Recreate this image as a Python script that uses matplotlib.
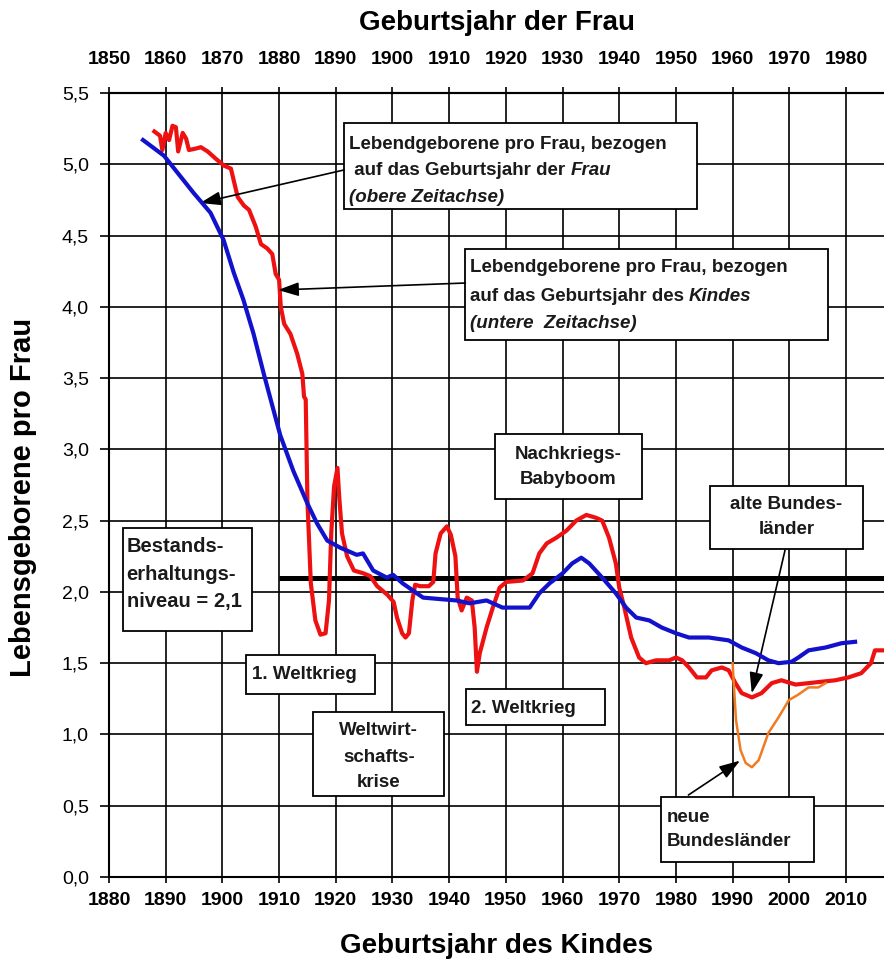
import matplotlib
matplotlib.use("Agg")
import matplotlib.pyplot as plt
from matplotlib.patches import Rectangle

plt.rcParams['font.family'] = ['Liberation Sans', 'DejaVu Sans']

# ---------------- data ----------------
# Lebendgeborene pro Frau, bezogen auf das Geburtsjahr des Kindes (untere Zeitachse)
red_years = [1888.0, 1889.0, 1889.4, 1890.0, 1890.6, 1891.2, 1891.8, 1892.2, 1893.0, 1893.6,
             1894.1, 1895.3, 1896.2, 1897.4, 1898.8, 1900.3, 1901.5, 1902.7, 1903.8, 1904.7,
             1905.9, 1906.8, 1907.9, 1908.8, 1909.4, 1910.0, 1910.3, 1910.9, 1912.0, 1913.2,
             1914.1, 1914.4, 1914.7, 1915.0, 1915.6, 1916.4, 1917.3, 1918.2, 1918.8, 1919.2,
             1919.7, 1920.3, 1920.6, 1921.1, 1922.0, 1923.2, 1924.9, 1926.1, 1927.3, 1929.1,
             1930.2, 1930.8, 1931.7, 1932.3, 1932.9, 1933.5, 1934.0, 1934.9, 1936.4, 1937.2,
             1937.6, 1938.5, 1939.6, 1940.3, 1941.1, 1941.5, 1942.2, 1943.1, 1944.0, 1944.5,
             1944.9, 1945.4, 1946.6, 1947.7, 1948.9, 1950.1, 1953.0, 1954.7, 1955.9, 1957.2,
             1958.9, 1960.7, 1962.4, 1964.2, 1965.9, 1967.0, 1968.2, 1969.4, 1970.0, 1970.9,
             1972.1, 1973.5, 1974.7, 1976.5, 1978.8, 1980.0, 1981.1, 1982.3, 1983.7, 1985.3,
             1986.3, 1988.1, 1989.3, 1990.5, 1991.6, 1993.4, 1995.1, 1996.9, 1998.6, 2001.1,
             2003.4, 2005.7, 2008.1, 2010.4, 2012.7, 2014.4, 2015.1, 2016.4]
red_values = [5.23, 5.20, 5.10, 5.22, 5.17, 5.27, 5.26, 5.09, 5.22, 5.18,
              5.10, 5.11, 5.12, 5.09, 5.04, 4.99, 4.97, 4.77, 4.71, 4.68,
              4.56, 4.44, 4.41, 4.37, 4.23, 4.19, 4.00, 3.88, 3.81, 3.67,
              3.53, 3.37, 3.35, 2.64, 2.06, 1.80, 1.70, 1.71, 1.94, 2.41,
              2.74, 2.87, 2.67, 2.41, 2.25, 2.15, 2.13, 2.11, 2.04, 1.98,
              1.93, 1.82, 1.71, 1.68, 1.71, 1.94, 2.05, 2.04, 2.04, 2.07,
              2.27, 2.41, 2.46, 2.40, 2.25, 1.96, 1.87, 1.96, 1.94, 1.75,
              1.44, 1.57, 1.75, 1.89, 2.03, 2.07, 2.08, 2.13, 2.27, 2.34,
              2.38, 2.43, 2.50, 2.54, 2.52, 2.50, 2.38, 2.20, 2.03, 1.89,
              1.68, 1.54, 1.50, 1.52, 1.52, 1.54, 1.52, 1.47, 1.40, 1.40,
              1.45, 1.47, 1.45, 1.36, 1.29, 1.26, 1.29, 1.36, 1.38, 1.35,
              1.36, 1.37, 1.38, 1.40, 1.43, 1.50, 1.59, 1.59]

# neue Bundeslaender (untere Zeitachse)
orange_years = [1990.0, 1990.2, 1990.6, 1991.4, 1992.3, 1993.4, 1994.6, 1996.3, 1998.1,
                1999.9, 2001.6, 2003.4, 2005.1, 2006.4]
orange_values = [1.50, 1.36, 1.10, 0.89, 0.80, 0.77, 0.82, 1.01, 1.12,
                 1.24, 1.28, 1.33, 1.33, 1.36]

# Lebendgeborene pro Frau, bezogen auf das Geburtsjahr der Frau (obere Zeitachse)
blue_years = [1856.0, 1859.7, 1864.9, 1867.9, 1870.2, 1872.0, 1873.7, 1875.5, 1877.3, 1880.2,
              1882.5, 1885.0, 1886.7, 1888.5, 1890.8, 1893.7, 1894.8, 1896.6, 1899.0, 1900.1,
              1901.8, 1903.6, 1905.4, 1908.3, 1911.3, 1913.6, 1916.6, 1919.4, 1924.2, 1925.9,
              1927.7, 1930.0, 1931.7, 1933.3, 1934.7, 1937.0, 1939.4, 1941.2, 1943.0, 1945.3,
              1947.5, 1950.0, 1952.3, 1955.8, 1959.3, 1961.6, 1964.1, 1966.3, 1968.1, 1970.4,
              1971.6, 1973.4, 1976.4, 1979.2, 1981.6]
blue_values = [5.17, 5.06, 4.80, 4.66, 4.47, 4.24, 4.05, 3.81, 3.53, 3.10,
               2.85, 2.62, 2.48, 2.36, 2.31, 2.26, 2.27, 2.15, 2.10, 2.12,
               2.06, 2.01, 1.96, 1.95, 1.94, 1.92, 1.94, 1.89, 1.89, 1.99,
               2.06, 2.13, 2.20, 2.24, 2.20, 2.10, 1.99, 1.89, 1.82, 1.80,
               1.75, 1.71, 1.68, 1.68, 1.66, 1.61, 1.57, 1.52, 1.50, 1.51,
               1.54, 1.59, 1.61, 1.64, 1.65]

# Bestandserhaltungsniveau
level_value = 2.1
level_start = 1910

bottom_years = list(range(1880, 2011, 10))
top_years = list(range(1850, 1981, 10))
y_ticks = [0.0, 0.5, 1.0, 1.5, 2.0, 2.5, 3.0, 3.5, 4.0, 4.5, 5.0, 5.5]
y_labels = ['0,0', '0,5', '1,0', '1,5', '2,0', '2,5', '3,0', '3,5', '4,0', '4,5', '5,0', '5,5']

# ---------------- figure ----------------
W, H = 884, 960
fig = plt.figure(figsize=(W / 100, H / 100), dpi=100)
ax = fig.add_axes([109 / W, 83 / H, (W - 109) / W, (877 - 93) / H])
ax.set_xlim(1880, 2016.7)
ax.set_ylim(0, 5.5)

ax.set_xticks(bottom_years)
ax.set_xticklabels([str(y) for y in bottom_years], fontsize=14, fontweight='bold')
ax.set_yticks(y_ticks)
ax.set_yticklabels(y_labels, fontsize=14)
ax.grid(True, color='black', linewidth=1.2, zorder=1)
ax.set_axisbelow(True)
ax.tick_params(axis='x', direction='out', length=4, width=1.2, pad=6.5)
ax.tick_params(axis='y', direction='out', length=6.5, width=1.2, pad=8)
for s in ['left', 'bottom', 'top']:
    ax.spines[s].set_linewidth(1.5)
ax.spines['right'].set_visible(False)

ax2 = ax.twiny()
ax2.set_xlim(1850, 1986.7)
ax2.set_xticks(top_years)
ax2.set_xticklabels([str(y) for y in top_years], fontsize=14, fontweight='bold')
ax2.tick_params(axis='x', direction='out', length=4, width=1.2, pad=14)
for s in ['left', 'bottom', 'right']:
    ax2.spines[s].set_visible(False)
ax2.spines['top'].set_linewidth(1.5)

# curves
ax.plot([level_start, 2016.7], [level_value, level_value], color='black', lw=3.6, zorder=3,
        solid_capstyle='butt')
ax.plot(red_years, red_values, color='#ee1111', lw=3.0, zorder=4, solid_joinstyle='round')
ax.plot(orange_years, orange_values, color='#f07b22', lw=1.8, zorder=4)
ax2.plot(blue_years, blue_values, color='#1212cc', lw=3.0, zorder=4, solid_joinstyle='round')

# ---------------- annotations ----------------
FS = 13.5


def box(x0, x1, y0, y1):
    ax.add_patch(Rectangle((x0, y0), x1 - x0, y1 - y0, facecolor='white',
                           edgecolor='black', lw=1.3, zorder=6))


def txt(x, y, s, ha='left', style='normal', size=FS):
    return ax.text(x, y, s, ha=ha, va='baseline', fontsize=size, fontweight='bold',
                   style=style, color='#1a1a1a', zorder=7)


def txt_italic_tail(t, s):
    ax.annotate(s, xy=(1, 0), xycoords=t, xytext=(5, 0), textcoords='offset pixels',
                ha='left', va='bottom', fontsize=FS, fontweight='bold', style='italic',
                color='#1a1a1a', zorder=7)


def arrow(start, tip):
    ax.annotate('', xy=tip, xytext=start,
                arrowprops=dict(arrowstyle='-|>,head_length=0.9,head_width=0.3',
                                color='black', lw=1.2, mutation_scale=14,
                                shrinkA=0, shrinkB=0), zorder=7)


# Box 1 (Frau)
box(1921.45, 1983.7, 4.686, 5.289)
txt(1922.4, 5.107, 'Lebendgeborene pro Frau, bezogen')
t = txt(1922.4, 4.925, ' auf das Geburtsjahr der')
txt_italic_tail(t, 'Frau')
txt(1922.4, 4.735, '(obere Zeitachse)', style='italic')
arrow((1921.45, 4.96), (1896.05, 4.728))

# Box 2 (Kindes)
box(1942.85, 2006.87, 3.764, 4.409)
txt(1943.6, 4.241, 'Lebendgeborene pro Frau, bezogen')
t = txt(1943.6, 4.043, 'auf das Geburtsjahr des')
txt_italic_tail(t, 'Kindes')
txt(1943.6, 3.849, '(untere  Zeitachse)', style='italic')
arrow((1942.85, 4.167), (1909.8, 4.118))

# Nachkriegs-Babyboom
box(1948.1, 1974.0, 2.652, 3.108)
txt(1961.0, 2.934, 'Nachkriegs-', ha='center')
txt(1961.0, 2.759, 'Babyboom', ha='center')

# alte Bundeslaender
box(1986.0, 2013.06, 2.299, 2.745)
txt(1999.5, 2.583, 'alte Bundes-', ha='center')
txt(1999.5, 2.408, 'länder', ha='center')
arrow((1999.25, 2.294), (1993.37, 1.289))

# neue Bundeslaender
box(1977.37, 2004.42, 0.107, 0.559)
txt(1978.4, 0.386, 'neue')
txt(1978.4, 0.217, 'Bundesländer')
arrow((1982.2, 0.575), (1991.3, 0.816))

# Bestandserhaltungsniveau
box(1882.4, 1905.2, 1.726, 2.450)
txt(1883.1, 2.280, 'Bestands-', size=14.5)
txt(1883.1, 2.081, 'erhaltungs-', size=14.5)
txt(1883.1, 1.894, 'niveau = 2,1', size=14.5)

# 1. Weltkrieg
box(1904.2, 1927.0, 1.284, 1.557)
txt(1905.2, 1.391, '1. Weltkrieg')

# Weltwirtschaftskrise
box(1915.9, 1939.1, 0.570, 1.155)
txt(1927.6, 0.994, 'Weltwirt-', ha='center')
txt(1927.6, 0.807, 'schafts-', ha='center')
txt(1927.6, 0.631, 'krise', ha='center')

# 2. Weltkrieg
box(1943.0, 1967.4, 1.066, 1.319)
txt(1943.8, 1.153, '2. Weltkrieg')

# axis titles
fig.text(497 / W, 1 - 30 / H, 'Geburtsjahr der Frau', ha='center', va='baseline',
         fontsize=20, fontweight='bold')
fig.text(497 / W, 1 - 953 / H, 'Geburtsjahr des Kindes', ha='center', va='baseline',
         fontsize=20, fontweight='bold')
fig.text(23 / W, 1 - 497 / H, 'Lebensgeborene pro Frau', ha='center', va='center',
         rotation=90, fontsize=21, fontweight='bold')

fig.savefig('out.png', dpi=100)
